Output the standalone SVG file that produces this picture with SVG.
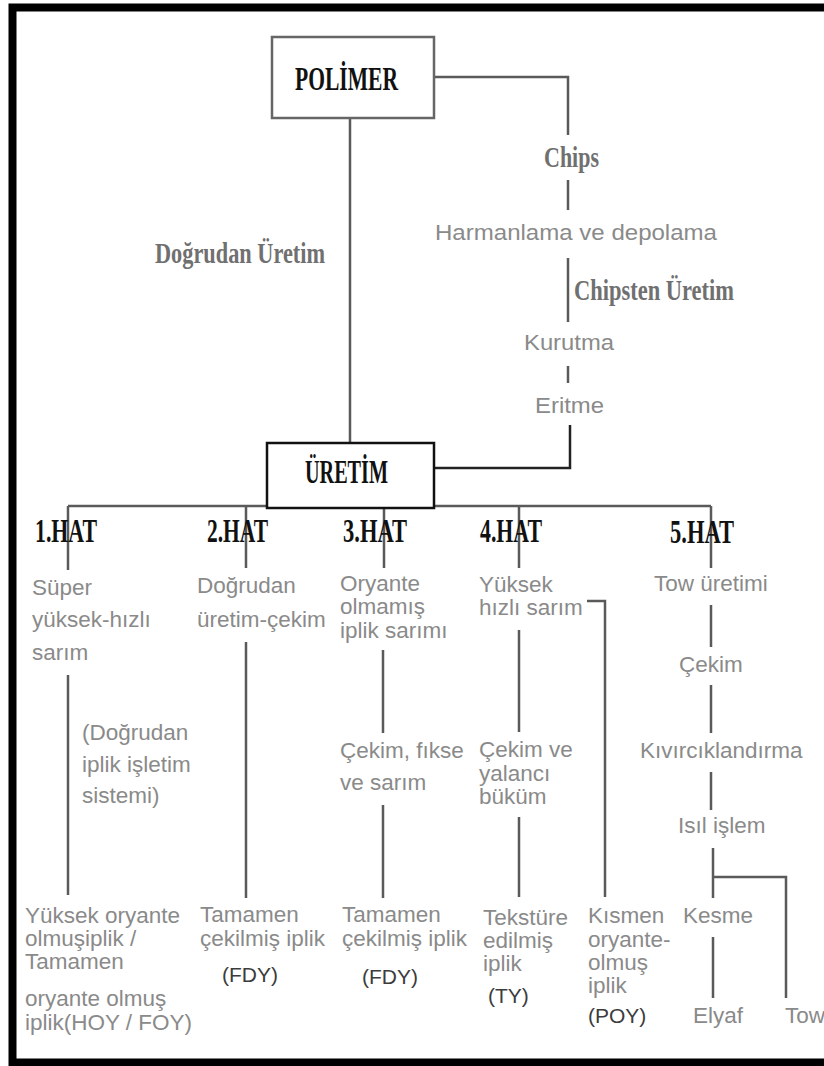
<svg xmlns="http://www.w3.org/2000/svg" width="824" height="1066" viewBox="0 0 824 1066">
<style>
.t{font-family:"Liberation Sans",Arial,sans-serif;font-size:22.5px;fill:#8a8a8a}
.d{fill:#3c3c3c;font-size:21px}
.h{font-family:"Liberation Serif","Times New Roman",serif;font-weight:bold;font-size:33px;fill:#111}
.g{font-family:"Liberation Serif","Times New Roman",serif;font-weight:bold;font-size:30px;fill:#707070}
.ln{stroke:#5a5a5a;stroke-width:2.5;fill:none}
.lk{stroke:#222;stroke-width:2.5;fill:none}
</style>
<rect x="0" y="0" width="824" height="1066" fill="#fff"/>
<path d="M830 7.5H12.5V1062.5H830" fill="none" stroke="#000" stroke-width="8"/>
<g id="connectors">
<path class="ln" d="M350 118V443"/>
<path class="ln" d="M434 77H568V135"/>
<path class="ln" d="M568 180V210"/>
<path class="ln" d="M568 258V322"/>
<path class="ln" d="M568 366V383"/>
<path class="lk" d="M570 425V468H434"/>
<path class="ln" d="M68 506H267M434 506H711"/>
<path class="ln" d="M68 506V570M246 506V568M384 508V568M519 506V568M711 506V568"/>
<path class="ln" d="M68 675V895"/>
<path class="ln" d="M246 642V898"/>
<path class="ln" d="M383 650V733M383 805V898"/>
<path class="ln" d="M519 630V732M519 817V897"/>
<path class="ln" d="M587 601H605V897"/>
<path class="ln" d="M711 605V647M711 685V733M711 772V810"/>
<path class="ln" d="M713 848V898M713 877H786V998M713 937V998"/>
</g>
<g id="polimer">
<rect x="272" y="37" width="162" height="81" fill="#fff" stroke="#666" stroke-width="2.5"/>
<text class="h" x="295" y="90" font-size="37" textLength="103" lengthAdjust="spacingAndGlyphs">POLİMER</text>
</g>
<g id="dogrudan-uretim"><text class="g" x="155" y="263" textLength="170" lengthAdjust="spacingAndGlyphs">Doğrudan Üretim</text></g>
<g id="chips"><text class="g" x="544" y="167" font-size="29" textLength="55" lengthAdjust="spacingAndGlyphs">Chips</text></g>
<g id="harmanlama"><text class="t" x="435" y="240" font-size="24" textLength="282" lengthAdjust="spacingAndGlyphs">Harmanlama ve depolama</text></g>
<g id="chipsten-uretim"><text class="g" x="574" y="300" textLength="160" lengthAdjust="spacingAndGlyphs">Chipsten Üretim</text></g>
<g id="kurutma"><text class="t" x="524" y="350" font-size="24" textLength="90" lengthAdjust="spacingAndGlyphs">Kurutma</text></g>
<g id="eritme"><text class="t" x="535" y="413" font-size="24" textLength="69" lengthAdjust="spacingAndGlyphs">Eritme</text></g>
<g id="uretim">
<rect x="267" y="443" width="167" height="65" fill="#fff" stroke="#111" stroke-width="2.5"/>
<text class="h" x="305" y="483" font-size="34" textLength="83" lengthAdjust="spacingAndGlyphs">ÜRETİM</text>
</g>
<g id="hat1"><text class="h" x="35" y="542" textLength="62" lengthAdjust="spacingAndGlyphs">1.HAT</text></g>
<g id="hat2"><text class="h" x="207" y="542" textLength="61" lengthAdjust="spacingAndGlyphs">2.HAT</text></g>
<g id="hat3"><text class="h" x="343" y="542" textLength="64" lengthAdjust="spacingAndGlyphs">3.HAT</text></g>
<g id="hat4"><text class="h" x="480" y="542" textLength="62" lengthAdjust="spacingAndGlyphs">4.HAT</text></g>
<g id="hat5"><text class="h" x="670" y="543" textLength="64" lengthAdjust="spacingAndGlyphs">5.HAT</text></g>
<g id="col1-top"><text class="t"><tspan x="32" y="595">Süper</tspan><tspan x="32" y="627">yüksek-hızlı</tspan><tspan x="32" y="660">sarım</tspan></text></g>
<g id="col1-note"><text class="t"><tspan x="82" y="740">(Doğrudan</tspan><tspan x="82" y="772">iplik işletim</tspan><tspan x="82" y="803">sistemi)</tspan></text></g>
<g id="col1-bottom"><text class="t"><tspan x="25" y="923">Yüksek oryante</tspan><tspan x="25" y="946">olmuşiplik /</tspan><tspan x="25" y="969">Tamamen</tspan><tspan x="25" y="1006">oryante olmuş</tspan><tspan x="25" y="1030">iplik(HOY / FOY)</tspan></text></g>
<g id="col2-top"><text class="t"><tspan x="197" y="593">Doğrudan</tspan><tspan x="197" y="627">üretim-çekim</tspan></text></g>
<g id="col2-bottom"><text class="t"><tspan x="200" y="922">Tamamen</tspan><tspan x="200" y="945.5">çekilmiş iplik</tspan><tspan class="d" x="222" y="982">(FDY)</tspan></text></g>
<g id="col3-top"><text class="t"><tspan x="340" y="590.5">Oryante</tspan><tspan x="340" y="614">olmamış</tspan><tspan x="340" y="637.5">iplik sarımı</tspan></text></g>
<g id="col3-mid"><text class="t"><tspan x="340" y="758">Çekim, fıkse</tspan><tspan x="340" y="790">ve sarım</tspan></text></g>
<g id="col3-bottom"><text class="t"><tspan x="342" y="922">Tamamen</tspan><tspan x="342" y="945.5">çekilmiş iplik</tspan><tspan class="d" x="362" y="984">(FDY)</tspan></text></g>
<g id="col4-top"><text class="t"><tspan x="479" y="592">Yüksek</tspan><tspan x="479" y="615">hızlı sarım</tspan></text></g>
<g id="col4-mid"><text class="t"><tspan x="479" y="757">Çekim ve</tspan><tspan x="479" y="780.5">yalancı</tspan><tspan x="479" y="804">büküm</tspan></text></g>
<g id="col4-bottom"><text class="t"><tspan x="483" y="925">Tekstüre</tspan><tspan x="483" y="948">edilmiş</tspan><tspan x="483" y="971">iplik</tspan><tspan class="d" x="488" y="1003">(TY)</tspan></text></g>
<g id="col4b-bottom"><text class="t"><tspan x="588" y="923">Kısmen</tspan><tspan x="588" y="947">oryante-</tspan><tspan x="588" y="970">olmuş</tspan><tspan x="588" y="993">iplik</tspan><tspan class="d" x="588" y="1023">(POY)</tspan></text></g>
<g id="tow-uretimi"><text class="t" x="654" y="591">Tow üretimi</text></g>
<g id="cekim"><text class="t" x="679" y="672">Çekim</text></g>
<g id="kivirciklandirma"><text class="t" x="640" y="758">Kıvırcıklandırma</text></g>
<g id="isil-islem"><text class="t" x="678" y="833">Isıl işlem</text></g>
<g id="kesme"><text class="t" x="683" y="923">Kesme</text></g>
<g id="elyaf"><text class="t" x="693" y="1023">Elyaf</text></g>
<g id="tow"><text class="t" x="785" y="1023">Tow</text></g>
</svg>
